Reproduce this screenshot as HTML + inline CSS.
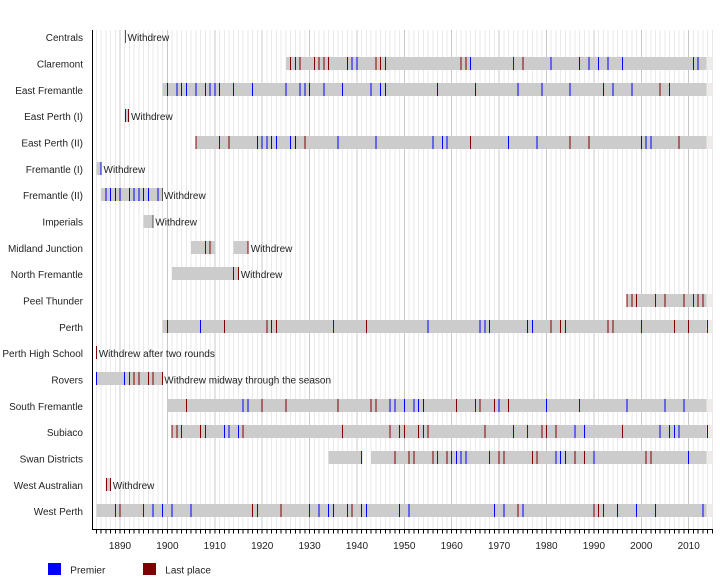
<!DOCTYPE html>
<html><head><meta charset="utf-8"><style>
html,body{margin:0;padding:0;background:#fff;}
svg{display:block;}
.s path{vector-effect:non-scaling-stroke;shape-rendering:crispEdges;fill:none;stroke-width:1;}
.s rect{shape-rendering:crispEdges;}
text{font-family:"Liberation Sans",Arial,sans-serif;font-size:10px;fill:#222;}
</style></head><body>
<svg width="720" height="580" viewBox="0 0 720 580" xmlns="http://www.w3.org/2000/svg">
<rect width="720" height="580" fill="#fff"/>
<g class="s" transform="translate(120 0) scale(4.739 1) translate(-1890 0)">
<path stroke="#e9e9e9" d="M1885,30V529m1-499V529m1-499V529m1-499V529m1-499V529
m2-499V529m1-499V529m1-499V529m1-499V529m1-499V529m1-499V529m1-499V529m1-499V529m1-499V529
m2-499V529m1-499V529m1-499V529m1-499V529m1-499V529m1-499V529m1-499V529m1-499V529m1-499V529
m2-499V529m1-499V529m1-499V529m1-499V529m1-499V529m1-499V529m1-499V529m1-499V529m1-499V529
m2-499V529m1-499V529m1-499V529m1-499V529m1-499V529m1-499V529m1-499V529m1-499V529m1-499V529
m2-499V529m1-499V529m1-499V529m1-499V529m1-499V529m1-499V529m1-499V529m1-499V529m1-499V529
m2-499V529m1-499V529m1-499V529m1-499V529m1-499V529m1-499V529m1-499V529m1-499V529m1-499V529
m2-499V529m1-499V529m1-499V529m1-499V529m1-499V529m1-499V529m1-499V529m1-499V529m1-499V529
m2-499V529m1-499V529m1-499V529m1-499V529m1-499V529m1-499V529m1-499V529m1-499V529m1-499V529
m2-499V529m1-499V529m1-499V529m1-499V529m1-499V529m1-499V529m1-499V529m1-499V529m1-499V529
m2-499V529m1-499V529m1-499V529m1-499V529m1-499V529m1-499V529m1-499V529m1-499V529m1-499V529
m2-499V529m1-499V529m1-499V529m1-499V529m1-499V529m1-499V529m1-499V529m1-499V529m1-499V529
m2-499V529m1-499V529m1-499V529m1-499V529m1-499V529m1-499V529m1-499V529m1-499V529m1-499V529
m2-499V529m1-499V529m1-499V529m1-499V529m1-499V529"/>
<path stroke="#c8c8c8" d="M1890,30V529M1900,30V529M1910,30V529M1920,30V529M1930,30V529M1940,30V529M1950,30V529M1960,30V529M1970,30V529M1980,30V529M1990,30V529M2000,30V529M2010,30V529"/>
<g fill="#cccccc">
<rect x="1925" y="57" width="88.8" height="13"/>
<rect x="1899" y="83" width="114.8" height="13"/>
<rect x="1891.055" y="109" width="0.845" height="13"/>
<rect x="1906" y="136" width="107.8" height="13"/>
<rect x="1885" y="162" width="1.1" height="13"/>
<rect x="1886" y="188" width="13" height="13"/>
<rect x="1895" y="215" width="2" height="13"/>
<rect x="1905" y="241" width="5" height="13"/>
<rect x="1913.9" y="241" width="3.1" height="13"/>
<rect x="1901" y="267" width="14" height="13"/>
<rect x="1997" y="294" width="16.8" height="13"/>
<rect x="1899" y="320" width="114.8" height="13"/>
<rect x="1885" y="372" width="14" height="13"/>
<rect x="1900" y="399" width="113.8" height="13"/>
<rect x="1901" y="425" width="112.8" height="13"/>
<rect x="1934" y="451" width="7.15" height="13"/>
<rect x="1943" y="451" width="70.8" height="13"/>
<rect x="1887.15" y="478" width="0.85" height="13"/>
<rect x="1885" y="504" width="128.8" height="13"/>
</g>
<g fill="#efebeb">
<rect x="2013.8" y="57" width="1.2" height="13"/>
<rect x="2013.8" y="83" width="1.2" height="13"/>
<rect x="2013.8" y="136" width="1.2" height="13"/>
<rect x="2013.8" y="294" width="1.2" height="13"/>
<rect x="2013.8" y="320" width="1.2" height="13"/>
<rect x="2013.8" y="399" width="1.2" height="13"/>
<rect x="2013.8" y="425" width="1.2" height="13"/>
<rect x="2013.8" y="451" width="1.2" height="13"/>
<rect x="2013.8" y="504" width="1.2" height="13"/>
</g>
<path stroke="#800000" d="
M1926,57v13M1927,57v13M1928,57v13M1931,57v13M1932,57v13M1933,57v13M1934,57v13M1944,57v13M1945,57v13M1946,57v13M1962,57v13M1963,57v13M1973,57v13M1975,57v13
M2004,83v13M2006,83v13
M1891.16,109v13M1891.79,109v13
M1906,136v13M1911,136v13M1913,136v13M1929,136v13M1964,136v13M1985,136v13M1989,136v13M2008,136v13
M1908,241v13M1909,241v13M1917,241v13
M1914,267v13M1915,267v13
M1997,294v13M1998,294v13M1999,294v13M2003,294v13M2005,294v13M2009,294v13M2011,294v13M2012,294v13M2013,294v13
M1900,320v13M1912,320v13M1921,320v13M1922,320v13M1923,320v13M1935,320v13M1942,320v13M1981,320v13M1983,320v13M1984,320v13M1993,320v13M1994,320v13M2000,320v13M2007,320v13M2010,320v13M2014,320v13
M1885,346v13
M1892,372v13M1893,372v13M1894,372v13M1896,372v13M1897,372v13M1899,372v13
M1904,399v13M1920,399v13M1925,399v13M1936,399v13M1943,399v13M1944,399v13M1961,399v13M1965,399v13M1966,399v13M1969,399v13M1972,399v13M1987,399v13
M1901,425v13M1902,425v13M1903,425v13M1907,425v13M1908,425v13M1916,425v13M1937,425v13M1947,425v13M1949,425v13M1950,425v13M1953,425v13M1954,425v13M1955,425v13M1967,425v13M1976,425v13M1979,425v13M1980,425v13M1982,425v13M1996,425v13
M1941,451v13M1948,451v13M1951,451v13M1952,451v13M1956,451v13M1957,451v13M1959,451v13M1960,451v13M1968,451v13M1970,451v13M1971,451v13M1977,451v13M1978,451v13M1986,451v13M1988,451v13M2001,451v13M2002,451v13
M1887.1,478v13M1887.95,478v13
M1889,504v13M1890,504v13M1895,504v13M1918,504v13M1919,504v13M1924,504v13M1930,504v13M1938,504v13M1939,504v13M1974,504v13M1990,504v13M1991,504v13M1992,504v13"/>
<path stroke="#0000ff" d="
M1938,57v13M1939,57v13M1940,57v13M1964,57v13M1981,57v13M1987,57v13M1989,57v13M1991,57v13M1993,57v13M1996,57v13M2011,57v13M2012,57v13
M1900,83v13M1902,83v13M1903,83v13M1904,83v13M1906,83v13M1908,83v13M1909,83v13M1910,83v13M1911,83v13M1914,83v13M1918,83v13M1925,83v13M1928,83v13M1929,83v13M1930,83v13M1933,83v13M1937,83v13M1943,83v13M1945,83v13M1946,83v13M1957,83v13M1965,83v13M1974,83v13M1979,83v13M1985,83v13M1992,83v13M1994,83v13M1998,83v13
M1919,136v13M1920,136v13M1921,136v13M1922,136v13M1923,136v13M1926,136v13M1927,136v13M1936,136v13M1944,136v13M1956,136v13M1958,136v13M1959,136v13M1972,136v13M1978,136v13M2000,136v13M2001,136v13M2002,136v13
M1886,162v13
M1887,188v13M1888,188v13M1889,188v13M1890,188v13M1892,188v13M1893,188v13M1894,188v13M1895,188v13M1896,188v13M1898,188v13
M1907,320v13M1955,320v13M1966,320v13M1967,320v13M1968,320v13M1976,320v13M1977,320v13
M1885,372v13M1891,372v13
M1916,399v13M1917,399v13M1947,399v13M1948,399v13M1950,399v13M1952,399v13M1953,399v13M1954,399v13M1970,399v13M1980,399v13M1997,399v13M2005,399v13M2009,399v13
M1912,425v13M1913,425v13M1915,425v13M1973,425v13M1986,425v13M1988,425v13M2004,425v13M2006,425v13M2007,425v13M2008,425v13M2014,425v13
M1961,451v13M1962,451v13M1963,451v13M1982,451v13M1983,451v13M1984,451v13M1990,451v13M2010,451v13
M1897,504v13M1899,504v13M1901,504v13M1905,504v13M1932,504v13M1934,504v13M1935,504v13M1941,504v13M1942,504v13M1949,504v13M1951,504v13M1969,504v13M1971,504v13M1975,504v13M1995,504v13M1999,504v13M2003,504v13M2013,504v13"/>
<path stroke="#555555" d="M1891.16,30v13M1899,188v13M1897,215v13"/>
<path stroke="#000" d="M1885,529.5v4
m1-4v4m1-4v4m1-4v4m1-4v4m1-4v4m1-4v4m1-4v4m1-4v4m1-4v4m1-4v4
m1-4v4m1-4v4m1-4v4m1-4v4m1-4v4m1-4v4m1-4v4m1-4v4m1-4v4m1-4v4
m1-4v4m1-4v4m1-4v4m1-4v4m1-4v4m1-4v4m1-4v4m1-4v4m1-4v4m1-4v4
m1-4v4m1-4v4m1-4v4m1-4v4m1-4v4m1-4v4m1-4v4m1-4v4m1-4v4m1-4v4
m1-4v4m1-4v4m1-4v4m1-4v4m1-4v4m1-4v4m1-4v4m1-4v4m1-4v4m1-4v4
m1-4v4m1-4v4m1-4v4m1-4v4m1-4v4m1-4v4m1-4v4m1-4v4m1-4v4m1-4v4
m1-4v4m1-4v4m1-4v4m1-4v4m1-4v4m1-4v4m1-4v4m1-4v4m1-4v4m1-4v4
m1-4v4m1-4v4m1-4v4m1-4v4m1-4v4m1-4v4m1-4v4m1-4v4m1-4v4m1-4v4
m1-4v4m1-4v4m1-4v4m1-4v4m1-4v4m1-4v4m1-4v4m1-4v4m1-4v4m1-4v4
m1-4v4m1-4v4m1-4v4m1-4v4m1-4v4m1-4v4m1-4v4m1-4v4m1-4v4m1-4v4
m1-4v4m1-4v4m1-4v4m1-4v4m1-4v4m1-4v4m1-4v4m1-4v4m1-4v4m1-4v4
m1-4v4m1-4v4m1-4v4m1-4v4m1-4v4m1-4v4m1-4v4m1-4v4m1-4v4m1-4v4
m1-4v4m1-4v4m1-4v4m1-4v4m1-4v4m1-4v4m1-4v4m1-4v4m1-4v4m1-4v4"/>
</g>
<rect x="92" y="30" width="1" height="500" fill="#000" shape-rendering="crispEdges"/>
<rect x="92" y="529" width="621" height="1" fill="#000" shape-rendering="crispEdges"/>
<g text-anchor="end">
<text x="83" y="41">Centrals</text>
<text x="83" y="67.5">Claremont</text>
<text x="83" y="93.8">East Fremantle</text>
<text x="83" y="120">East Perth (I)</text>
<text x="83" y="146.5">East Perth (II)</text>
<text x="83" y="172.8">Fremantle (I)</text>
<text x="83" y="199">Fremantle (II)</text>
<text x="83" y="225.5">Imperials</text>
<text x="83" y="251.8">Midland Junction</text>
<text x="83" y="278">North Fremantle</text>
<text x="83" y="304.5">Peel Thunder</text>
<text x="83" y="330.8">Perth</text>
<text x="83" y="357">Perth High School</text>
<text x="83" y="383.5">Rovers</text>
<text x="83" y="409.8">South Fremantle</text>
<text x="83" y="436">Subiaco</text>
<text x="83" y="462.5">Swan Districts</text>
<text x="83" y="488.8">West Australian</text>
<text x="83" y="515">West Perth</text>
</g>
<text x="127.5" y="41">Withdrew</text>
<text x="131" y="120">Withdrew</text>
<text x="103.5" y="172.8">Withdrew</text>
<text x="164" y="199">Withdrew</text>
<text x="155.3" y="225.5">Withdrew</text>
<text x="250.7" y="251.8">Withdrew</text>
<text x="240.7" y="278">Withdrew</text>
<text x="98.7" y="357">Withdrew after two rounds</text>
<text x="164.3" y="383.5">Withdrew midway through the season</text>
<text x="112.7" y="488.8">Withdrew</text>
<g text-anchor="middle">
<text x="120" y="549">1890</text>
<text x="167.4" y="549">1900</text>
<text x="214.8" y="549">1910</text>
<text x="262.2" y="549">1920</text>
<text x="309.6" y="549">1930</text>
<text x="357" y="549">1940</text>
<text x="404.3" y="549">1950</text>
<text x="451.7" y="549">1960</text>
<text x="499.1" y="549">1970</text>
<text x="546.5" y="549">1980</text>
<text x="593.9" y="549">1990</text>
<text x="641.3" y="549">2000</text>
<text x="688.7" y="549">2010</text>
</g>
<rect x="48" y="563" width="13" height="12" fill="#0000ff"/>
<text x="70.3" y="573.7">Premier</text>
<rect x="143" y="563" width="13" height="12" fill="#800000"/>
<text x="165.3" y="573.7">Last place</text>
</svg>
</body></html>
